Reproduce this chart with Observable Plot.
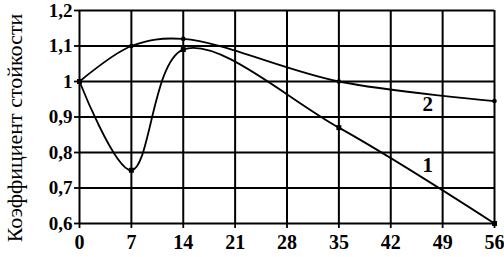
<!DOCTYPE html>
<html><head><meta charset="utf-8">
<script src="https://cdn.jsdelivr.net/npm/d3@7"></script>
<script src="https://cdn.jsdelivr.net/npm/@observablehq/plot@0.6"></script>
<style>
body{margin:0;background:#fff;}
svg{font-family:"Liberation Serif",serif;}
</style>
</head><body>
<div id="chart"></div>
<script>
const days = [0, 7, 14, 35, 56];
const series1 = [1.0, 0.75, 1.09, 0.87, 0.6];
const series2 = [1.0, 1.1, 1.12, 1.0, 0.945];
const xTicks = [0, 7, 14, 21, 28, 35, 42, 49, 56];
const yTicks = [0.6, 0.7, 0.8, 0.9, 1.0, 1.1, 1.2];
const yLabel = "Коэффициент стойкости";
const seriesLabels = [{name: "1", x: 47, y: 0.765}, {name: "2", x: 47, y: 0.935}];

const d1 = days.map((d, i) => ({x: d, y: series1[i]}));
const d2 = days.map((d, i) => ({x: d, y: series2[i]}));
const fmt = v => Math.abs(v - 1) < 1e-9 ? "1" : v.toFixed(1).replace(".", ",");

const chart = Plot.plot({
  width: 504, height: 257,
  marginLeft: 79, marginRight: 10, marginTop: 10, marginBottom: 34,
  style: {fontFamily: "'Liberation Serif', serif", background: "#fff", color: "#000"},
  x: {domain: [0, 56], ticks: xTicks, label: null},
  y: {domain: [0.6, 1.2], ticks: yTicks, tickFormat: fmt, label: null},
  marks: [
    Plot.gridX(xTicks, {stroke: "#000", strokeOpacity: 1, strokeWidth: 2}),
    Plot.gridY(yTicks, {stroke: "#000", strokeOpacity: 1, strokeWidth: 2}),
    Plot.axisX({ticks: xTicks, tickSize: 5, tickPadding: 6, fontSize: 20, fontWeight: "bold", strokeWidth: 1.8, label: null}),
    Plot.axisY({ticks: yTicks, tickFormat: fmt, tickSize: 5, tickPadding: 2, fontSize: 19, fontWeight: "bold", strokeWidth: 1.8, label: null}),
    Plot.text([yLabel], {text: d => d, frameAnchor: "left", textAnchor: "middle", lineAnchor: "middle", rotate: -90, dx: -65, dy: 11, fontSize: 22, fill: "#000"}),
    Plot.line(d1, {x: "x", y: "y", curve: "catmull-rom", stroke: "#000", strokeWidth: 1.8}),
    Plot.line(d2, {x: "x", y: "y", curve: "catmull-rom", stroke: "#000", strokeWidth: 1.8}),
    Plot.dot(d1, {x: "x", y: "y", symbol: "square", r: 2.8, fill: "#000"}),
    Plot.dot(d2, {x: "x", y: "y", r: 2.3, fill: "#000"}),
    Plot.text(seriesLabels, {x: "x", y: "y", text: "name", fontSize: 21, fontWeight: "bold", fill: "#000"})
  ]
});
document.getElementById("chart").appendChild(chart);
</script>
</body></html>
